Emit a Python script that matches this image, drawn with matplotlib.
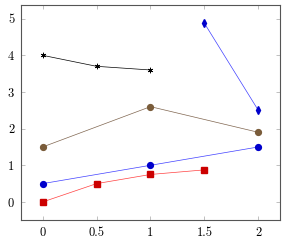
import matplotlib
matplotlib.use("Agg")
import matplotlib.pyplot as plt

plt.rcParams['font.family'] = ['cmr10', 'DejaVu Serif']
plt.rcParams['axes.formatter.use_mathtext'] = True

# data series
x_estrella = [0, 0.5, 1]
y_estrella = [4, 3.7, 3.6]

x_cafe = [0, 1, 2]
y_cafe = [1.5, 2.6, 1.9]

x_azul = [0, 1, 2]
y_azul = [0.5, 1.0, 1.5]

x_rojo = [0, 0.5, 1, 1.5]
y_rojo = [0, 0.5, 0.75, 0.875]

x_diamante = [1.5, 2]
y_diamante = [4.875, 2.5]

xticks = [0, 0.5, 1, 1.5, 2]
xtick_labels = ['0', '0.5', '1', '1.5', '2']
yticks = [0, 1, 2, 3, 4, 5]
ytick_labels = ['0', '1', '2', '3', '4', '5']

fig = plt.figure(figsize=(2.85, 2.43), dpi=100)
ax = fig.add_axes([0.074, 0.095, 0.908, 0.884])

lw = 0.5
ax.plot(x_azul, y_azul, color='#4040ff', lw=lw, marker='o', ms=4.2,
        mfc='#0000cc', mec='#0000cc')
ax.plot(x_rojo, y_rojo, color='#ff4040', lw=lw, marker='s', ms=3.8,
        mfc='#cc0000', mec='#cc0000')
ax.plot(x_cafe, y_cafe, color='#806650', lw=lw, marker='o', ms=4.2,
        mfc='#7a5c3a', mec='#7a5c3a')
ax.plot(x_estrella, y_estrella, color='black', lw=lw, marker=(6, 2, 0), ms=4,
        mec='black', mew=0.5)
ax.plot(x_diamante, y_diamante, color='#4040ff', lw=lw, marker='d', ms=4.2,
        mfc='#0000cc', mec='#0000cc')

ax.set_xlim(-0.2, 2.2)
ax.set_ylim(-0.49, 5.37)
ax.set_xticks(xticks)
ax.set_xticklabels(xtick_labels)
ax.set_yticks(yticks)
ax.set_yticklabels(ytick_labels)

ax.tick_params(direction='in', top=True, right=True, length=3, width=0.4,
               color='#909090', labelsize=9, pad=5)
for s in ax.spines.values():
    s.set_linewidth(0.8)
    s.set_color('#555555')

fig.savefig('out.png', dpi=100)
